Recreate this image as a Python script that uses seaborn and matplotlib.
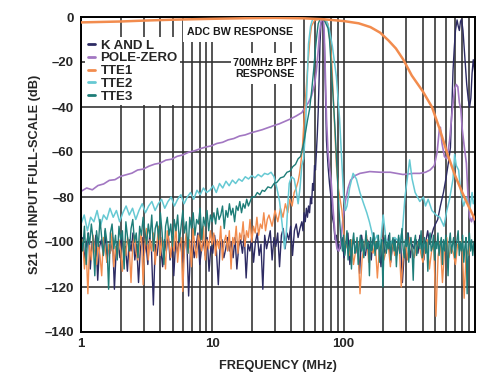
import numpy as np
import pandas as pd
import matplotlib
matplotlib.use("Agg")
import matplotlib.pyplot as plt
from matplotlib.lines import Line2D
from matplotlib.patches import Rectangle
from matplotlib.ticker import FixedLocator, FixedFormatter, NullFormatter
import seaborn as sns

# ------------------------------------------------------------------ data
series_names = ["K AND L", "POLE-ZERO", "TTE1", "TTE2", "TTE3"]
series_colors = ["#2d2b63", "#a277c2", "#f28c4e", "#66c9d3", "#1e7d78"]

x_tick_values = [1, 10, 100]
x_tick_labels = ["1", "10", "100"]
y_tick_values = [0, -20, -40, -60, -80, -100, -120, -140]
y_tick_labels = ["0", "\u201320", "\u201340", "\u201360", "\u201380", "\u2013100", "\u2013120", "\u2013140"]

# ---- K AND L (navy)
knl_lo_range = (1, 48)
knl_lo_db = [
    -103, -98, -108, -101, -96, -112, -100, -104, -97, -117,
    -102, -99, -106, -95, -109, -101, -104, -98, -121, -103,
    -100, -107, -97, -105, -102, -113, -99, -104, -96, -108,
    -101, -118, -103, -98,
    -106, -100, -110, -97, -104, -128, -101, -106, -98, -103,
    -111, -99, -104, -96, -108, -102, -115, -100, -105, -97,
    -103, -109, -101, -98, -124, -104, -99, -107, -102, -96,
    -110, -103, -100, -106, -98, -113, -102,
    -105, -97, -104, -119, -101, -99, -107, -103, -98, -104,
    -100, -107, -98, -112, -102, -99, -105, -97, -116, -101,
    -104, -98, -109, -100, -96, -106, -101, -121, -97, -103,
    -99, -95, -108, -98, -102, -96, -111, -97, -94, -103,
    -96, -99, -93, -106, -95, -92, -98, -94, -91]
knl_band_f = [49, 50, 51, 52, 53, 54, 55, 56, 57, 58, 59, 60, 61, 62, 63, 64, 65, 66, 67,
              68.6, 70, 71.3, 72.5, 74, 76, 78, 80, 82, 84, 86, 88, 90, 92]
knl_band_db = [-95, -87, -91, -85, -89, -84, -87, -80, -83, -74, -77, -66, -68, -60, -52,
               -42, -28, -12, -4, -0.5, -3, -12, -30, -55, -66, -74, -80, -89, -92, -99,
               -97, -104, -101]
knl_hi_range = (94, 500)
knl_hi_db = [
    -103, -98, -107, -101, -96, -110, -102, -99, -105, -100,
    -114, -97, -103, -106, -99, -101, -108, -96, -104, -102,
    -100, -111, -98, -105, -103, -97, -109, -101, -99, -106,
    -102, -98, -118, -104, -100, -96, -107, -101, -103, -99,
    -105, -97, -102, -108, -100, -95, -101, -97, -94, -92]
knl_peak_f = [520, 545, 575, 600, 630, 650, 665, 680, 695, 710, 730, 745, 760, 775, 790,
              810, 840, 865, 890, 910, 930, 950, 970, 985, 1000]
knl_peak_db = [-90, -84, -78, -72, -64, -58, -42, -24, -14, -6, -1.3, -4, -6, -2, -1,
               -6, -19, -30, -37, -40, -36, -25, -19, -22, -26]

# ---- POLE-ZERO (purple)
pz_lo_range = (1, 48)
pz_lo_db = [
    -77.5, -76.0, -76.8, -74.9, -74.2, -72.6, -72.3, -70.8, -70.1, -69.4,
    -68.0, -67.6, -66.3, -65.4, -64.9, -63.6, -63.2, -61.9, -61.3, -60.1,
    -59.5, -58.6, -57.8, -57.3, -56.2, -55.7, -54.6, -54.0, -52.9, -52.4,
    -51.5, -50.8, -50.1, -49.2, -48.3, -47.5, -46.4, -45.3, -44.0, -42.5]
pz_band_f = [51, 54, 57, 60, 62, 64, 65.5, 67, 68.5, 70, 71, 72.5, 74, 76, 78, 80, 83, 86,
             89, 92, 95, 99, 103, 108, 113, 122, 133, 158, 190, 226, 283, 340, 380, 420,
             455, 490, 515, 535, 545, 560, 585, 610, 640, 670, 700, 720, 740, 760, 780,
             800, 830, 860, 885, 910, 940, 970, 1000]
pz_band_db = [-40, -38, -35, -30, -24, -15, -7, -2.5, -0.5, -1, -6, -25, -45, -60, -67, -72,
              -85, -97, -103, -104, -100, -89, -82, -76, -72.5, -70.5, -69.5, -68.7, -69,
              -69, -70, -69.5, -69.5, -69, -68, -66, -60, -50, -49, -56, -62, -63, -55,
              -42, -32, -30, -31, -38, -41, -50, -58, -65, -80, -89, -91, -88, -93]

# ---- TTE1 (orange)
tte1_lo_range = (1, 27)
tte1_lo_db = [
    -106, -99, -112, -103, -123, -101, -108, -97, -104, -110,
    -100, -106, -115, -98, -103, -109, -101, -105, -96, -111,
    -102, -107, -99, -104, -113, -100, -106, -98, -103, -118,
    -101, -97, -105, -108, -100, -96, -119,
    -102, -94, -108, -99, -104, -96, -110, -101, -93, -106,
    -98, -103, -112, -95, -100, -107, -97, -104, -92, -109,
    -101, -98, -122, -103, -96, -105, -99, -111, -94, -102,
    -107, -97, -100, -104, -93, -108, -99, -103, -95,
    -101, -96, -106, -99, -103, -93, -108, -100, -97, -104,
    -95, -112, -98, -101, -93, -105, -96, -99, -91, -102,
    -95, -98, -90, -100, -93, -96, -89, -97, -92, -94,
    -87, -95, -90, -88]
tte1_band_f = [28.5, 30, 31.5, 33, 34.5, 36, 37.5, 39, 40.5, 42, 43.5, 45, 46, 47, 48.5, 50,
               52.5, 55.5, 57, 60, 65, 72, 76, 79, 81, 84, 88, 91, 94, 97, 100, 103]
tte1_band_db = [-93, -86, -91, -85, -89, -83, -87, -81, -84, -78, -76, -73, -70, -66, -58,
                -45, -27, -9, -4, -1.5, -1, -1.2, -3, -12, -19, -40, -66, -76, -81, -86,
                -95, -103]
tte1_hi_range = (106, 1000)
tte1_hi_db = [
    -101, -106, -99, -110, -104, -100, -123, -107, -102, -97,
    -109, -103, -105, -100, -116, -102, -98, -108, -104, -101,
    -111, -99, -106, -103, -100, -120, -105, -101, -108, -98,
    -104, -107, -102, -100, -105, -109, -103, -99, -112, -104,
    -101, -133, -106, -100, -118, -103, -98, -107, -102, -105,
    -110, -101, -104, -99, -125, -103, -106, -100, -104, -102]

# ---- ADC bandwidth response (orange, unlabelled)
adc_f = [1, 2, 3, 5, 10, 20, 30, 50, 70, 100, 130, 160, 190, 220, 250, 285, 330, 400, 470,
         540, 610, 640, 700, 800, 900, 1000]
adc_db = [-2.4, -2.0, -1.6, -1.2, -0.8, -0.5, -0.4, -0.6, -1.0, -1.8, -2.8, -4.5, -7, -10.5,
          -14, -19, -26, -33, -40, -50, -60, -63.5, -70, -78, -84.5, -90]

# ---- TTE2 (cyan)
tte2_lo_range = (1, 28)
tte2_lo_db = [
    -92, -88, -95, -89, -91, -86, -93, -88, -90, -85,
    -89, -86, -91, -87, -84, -88, -85, -90, -86, -83,
    -87, -84, -82, -86, -83, -81, -85, -82, -80, -84,
    -81, -79, -83, -80, -78, -81, -77, -79, -76, -78,
    -77, -75, -78, -74, -76, -73, -75, -72.5, -74, -72,
    -73, -71, -72, -70.5, -71.5, -70, -71, -69.5, -70, -69]
tte2_band_f = [29.5, 31, 32.5, 34, 35.5, 36.5, 37.5, 38.5, 40, 42, 43.5, 45, 46.5, 48, 49.5,
               51, 52.5, 54, 56, 58, 62, 70, 74, 78, 82, 88, 93, 97, 100, 103, 106, 111,
               118, 125, 133, 142, 150, 157, 163]
tte2_band_db = [-71, -76, -82, -92, -103, -97, -84, -74, -71, -72, -77, -83, -76, -66, -63,
                -52, -32, -12, -4, -1, -0.5, -0.5, -1.5, -6, -13, -26.5, -45, -65, -80, -86,
                -84, -76, -69.5, -72, -78, -83, -87, -91, -95]
tte2_hi_f = [170, 180, 190, 200, 210, 225, 245, 265, 280, 293, 305, 318, 332, 350, 380, 405,
             420, 440, 470, 505, 540, 580, 610, 640, 680, 700, 720, 750, 780, 820, 860, 910,
             950, 970, 1000]
tte2_hi_db = [-100, -97, -102, -88, -99, -101, -98, -100, -95, -80, -72, -63.5, -72, -78,
              -82, -80, -84, -81, -86, -88, -89, -93, -86, -81, -72, -61, -66, -68, -78,
              -84, -80, -86, -78, -83, -81]

# ---- TTE3 (teal)
tte3_lo_range = (1, 20)
tte3_lo_db = [
    -97, -104, -93, -110, -96, -101, -92, -99, -115, -95,
    -102, -90, -98, -106, -94, -100, -121, -96, -92, -103,
    -97, -108, -93, -99, -95, -112, -91, -98, -104, -94,
    -90, -100, -96, -107, -93, -97, -89,
    -95, -101, -92, -98, -88, -104, -94, -91, -99, -87,
    -96, -110, -93, -89, -97, -92, -102, -90, -95, -88,
    -100, -93, -86, -96, -91, -105, -89, -94, -87, -97,
    -90, -92, -85, -99, -89, -93, -86, -95, -88,
    -91, -87, -92, -85, -90, -88, -84, -94, -86, -89,
    -83, -88, -85, -91, -84, -86, -82, -87, -83, -85,
    -81, -84, -82, -80]
tte3_band_f = [21, 22, 23, 24, 25, 26.5, 28, 29.5, 31, 33, 35, 37, 39, 41, 43, 45, 47, 50, 53,
               55, 57, 59, 61, 62.5, 64, 66, 68, 70, 72, 74, 76, 78, 80, 83, 86, 89, 92, 95]
tte3_band_db = [-80, -78, -79, -77, -77.5, -75.5, -76, -74, -73.5, -71.5, -71, -69, -68.5,
                -66.5, -65.5, -63, -62, -55, -46, -41, -33, -24, -14, -8, -3, -1, -0.8, -1,
                -2, -3.5, -5, -10, -20, -35, -50, -68, -85, -98]
tte3_hi_range = (96, 1000)
tte3_hi_db = [
    -99, -104, -97, -106, -101, -95, -108, -102, -99, -112, -100, -96, -105, -103, -98, -110, -101, -97, -104, -99,
    -107, -102, -95, -103, -100, -115, -98, -104, -101, -96, -106, -100, -103, -97, -109, -102, -99, -120, -101, -97,
    -105, -100, -103, -96, -108, -101, -98, -104, -99, -111, -102, -97, -105, -100, -94, -103, -107, -99, -102, -96,
    -109, -101, -98, -104, -117, -100, -97, -106, -102, -99, -103, -95, -107, -101, -98, -105, -100, -113, -99, -96,
    -104, -102, -97, -108, -100, -103, -96, -106, -101, -98, -110, -99, -104, -97, -102, -115, -100, -96, -105, -101,
    -98, -107, -103, -99, -95, -106, -100, -104, -97, -109, -102, -98, -123, -101, -96, -104, -99, -106, -100, -103]

annot_adc = "ADC BW RESPONSE"
annot_bpf = "700MHz BPF\nRESPONSE"
x_label = "FREQUENCY (MHz)"
y_label = "S21 OR INPUT FULL-SCALE (dB)"


# ------------------------------------------------------------------ helpers
def seg(rng, vals):
    return np.geomspace(rng[0], rng[1], len(vals))


def build(parts):
    fr = np.concatenate([np.asarray(p[0], float) for p in parts])
    db = np.concatenate([np.asarray(p[1], float) for p in parts])
    return pd.DataFrame({"freq": fr, "db": db})


df_knl = build([(seg(knl_lo_range, knl_lo_db), knl_lo_db), (knl_band_f, knl_band_db),
                (seg(knl_hi_range, knl_hi_db), knl_hi_db), (knl_peak_f, knl_peak_db)])
df_pz = build([(seg(pz_lo_range, pz_lo_db), pz_lo_db), (pz_band_f, pz_band_db)])
df_tte1 = build([(seg(tte1_lo_range, tte1_lo_db), tte1_lo_db), (tte1_band_f, tte1_band_db),
                 (seg(tte1_hi_range, tte1_hi_db), tte1_hi_db)])
df_adc = build([(adc_f, adc_db)])
df_tte2 = build([(seg(tte2_lo_range, tte2_lo_db), tte2_lo_db), (tte2_band_f, tte2_band_db),
                 (tte2_hi_f, tte2_hi_db)])
df_tte3 = build([(seg(tte3_lo_range, tte3_lo_db), tte3_lo_db), (tte3_band_f, tte3_band_db),
                 (seg(tte3_hi_range, tte3_hi_db), tte3_hi_db)])

# ------------------------------------------------------------------ style
sns.set_style("white")
plt.rcParams["font.family"] = ["Liberation Sans", "DejaVu Sans"]
plt.rcParams["font.weight"] = "bold"

fig = plt.figure(figsize=(4.97, 3.81), dpi=100)
ax = fig.add_axes([81 / 497, 1 - 332 / 381, 394 / 497, 315 / 381])
ax.set_xscale("log")

col = dict(zip(series_names, series_colors))
for df, name, lw, z in [(df_knl, "K AND L", 1.0, 2.0), (df_pz, "POLE-ZERO", 1.2, 2.1),
                        (df_tte1, "TTE1", 1.0, 2.2), (df_tte2, "TTE2", 1.1, 2.3),
                        (df_tte3, "TTE3", 1.0, 2.4)]:
    sns.lineplot(data=df, x="freq", y="db", color=col[name], lw=lw, ax=ax,
                 estimator=None, sort=False, legend=False, zorder=z)
sns.lineplot(data=df_adc, x="freq", y="db", color=col["TTE1"], lw=1.8, ax=ax,
             estimator=None, sort=False, legend=False, zorder=2.6)

ax.set_xlim(1, 1000)
ax.set_ylim(-140, 0)

minor = [m * 10 ** k for k in range(3) for m in range(2, 10)]
ax.xaxis.set_major_locator(FixedLocator(x_tick_values))
ax.xaxis.set_major_formatter(FixedFormatter(x_tick_labels))
ax.xaxis.set_minor_locator(FixedLocator(minor))
ax.xaxis.set_minor_formatter(NullFormatter())
ax.yaxis.set_major_locator(FixedLocator(y_tick_values))
ax.yaxis.set_major_formatter(FixedFormatter(y_tick_labels))

ax.set_axisbelow(True)
ax.grid(which="both", axis="x", color="#2e2e2e", lw=1.15)
ax.grid(which="major", axis="y", color="#2e2e2e", lw=1.15)
ax.tick_params(which="both", length=0)
ax.tick_params(axis="x", pad=4, labelsize=9.5)
ax.tick_params(axis="y", pad=5, labelsize=9.5)
for lab in ax.get_xticklabels() + ax.get_yticklabels():
    lab.set_fontweight("bold")

for sp in ax.spines.values():
    sp.set_visible(True)
    sp.set_color("black")
    sp.set_linewidth(1.4)

ax.set_xlabel(x_label, fontsize=9.2, fontweight="bold")
ax.set_ylabel(y_label, fontsize=9.2, fontweight="bold")
ax.xaxis.set_label_coords(0.5, -0.089)
ax.yaxis.set_label_coords(-0.1015, 0.5)

# white masks behind annotation texts (hide grid only)
ax.add_patch(Rectangle((0.259, 0.921), 0.292, 0.073, transform=ax.transAxes,
                       facecolor="white", edgecolor="none", zorder=1))
ax.add_patch(Rectangle((0.381, 0.787), 0.175, 0.099, transform=ax.transAxes,
                       facecolor="white", edgecolor="none", zorder=1))

ax.text(16.3, -6.5, annot_adc, ha="center", va="center", fontsize=7.7,
        fontweight="bold", color="#1a1a1a", zorder=6)
ax.text(25.2, -23, annot_bpf, ha="center", va="center", fontsize=7.7,
        fontweight="bold", color="#1a1a1a", linespacing=1.15, zorder=6)

handles = [Line2D([], [], color=c, lw=2) for c in series_colors]
leg = ax.legend(handles, series_names, loc="upper left", bbox_to_anchor=(0.011, 0.937),
                frameon=True, facecolor="white", edgecolor="none", framealpha=1,
                fancybox=False, handlelength=0.55, handletextpad=0.4,
                labelspacing=0.04, borderpad=0.2, borderaxespad=0,
                prop={"weight": "bold", "size": 9.5})
leg.set_zorder(7)

fig.savefig("out.png", dpi=100)
